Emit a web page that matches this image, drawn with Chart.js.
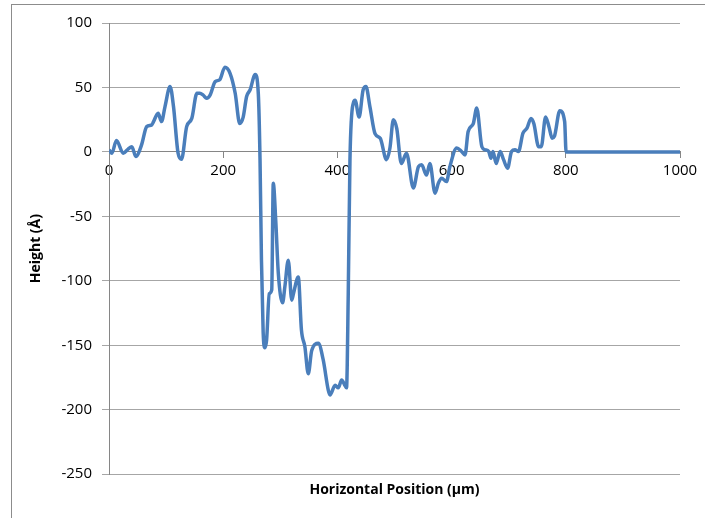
<!DOCTYPE html>
<html>
<head>
<meta charset="utf-8">
<script src="https://cdn.jsdelivr.net/npm/chart.js@4"></script>
<style>
  html, body { margin: 0; padding: 0; background: #fff; overflow: hidden; }
  #frame { position: absolute; left: 11px; top: 4px; width: 720px; height: 540px; border: 1px solid #8c8c8c; }
  #wrap { position: absolute; left: 0; top: 0; width: 705px; height: 518px; }
</style>
</head>
<body>
<div id="frame"></div>
<div id="wrap"><canvas id="profile"></canvas></div>
<script>
// surface profile: horizontal position (µm) vs height (Å)
const positions = [
  0, 5, 13, 25, 33, 40, 47, 57, 66, 75, 78, 86, 92, 98, 107, 113, 121, 127, 136, 145,
  154, 159, 165, 171, 177, 186, 194, 203, 212, 221, 229, 235, 241, 247, 256, 261.5, 264.5, 267, 270, 273,
  276, 280.7, 285, 287.7, 292, 296.5, 304, 308, 314, 320, 323, 331.5, 337, 343, 349, 355, 366.5, 375, 384, 387,
  396, 401.5, 407.4, 413, 416, 419, 422, 428, 431, 438, 445, 450, 457, 466, 475, 486, 492, 498, 504, 512,
  521, 533, 542, 547.5, 556, 562, 571, 577, 582.5, 591, 597, 609, 617.5, 623.5, 629, 638, 644, 653, 659, 665,
  669, 672.5, 678, 685, 691, 698, 705, 711, 717, 725, 732, 739, 744, 752.5, 757, 764.6, 770.5, 776, 780, 789.5,
  798, 800.5, 1000
];
const heights = [
  1.5, -1, 8.8, -1, 2, 4, -3.6, 5.4, 19.6, 21, 23.5, 30, 23.5, 35, 50.7, 35, -1, -5.7, 19.6, 26,
  45.5, 45.5, 44, 41.6, 44, 54.5, 56, 65.7, 61, 45.5, 22, 27, 43, 48, 60, 45, -6, -84, -140, -152,
  -146, -110, -107, -24.3, -53, -94, -117, -104.5, -84, -115, -110, -97, -138, -151, -172, -154, -148.5, -161, -184.7, -188.5,
  -181, -183, -177, -181, -183, -110, -6, 38, 40, 27, 48, 50.7, 35, 14, 10.6, -6, 3, 25, 18, -9,
  -1, -28, -11.4, -10, -18, -9, -32, -24, -20.4, -23, -11.4, 3, 0.3, -2.3, 15.8, 22, 34, 4, 1.6, 0.3,
  -5, 0.3, -9, 0.3, -6, -12.6, 0.3, 1.6, 0.3, 14.5, 18.4, 26, 22, 4, 4, 27, 19.6, 10.6, 12, 32,
  23.5, 0, 0
];
const xTicks = [0, 200, 400, 600, 800, 1000];
const yTicks = [-250, -200, -150, -100, -50, 0, 50, 100];

const tickFont = { family: "'Open Sans', sans-serif", size: 15 };
const titleFont = { family: "'Open Sans', sans-serif", size: 14, weight: 'bold' };

new Chart(document.getElementById('profile'), {
    type: 'line',
    data: {
        datasets: [{
            data: positions.map((p, i) => ({ x: p, y: heights[i] })),
            borderColor: '#4a7ebb',
            borderWidth: 3.5,
            pointRadius: 0,
            cubicInterpolationMode: 'monotone',
            fill: false
        }]
    },
    options: {
        responsive: true,
        maintainAspectRatio: false,
        animation: false,
        layout: { padding: { left: 12, right: 25, top: 23, bottom: 20 } },
        plugins: { legend: { display: false }, tooltip: { enabled: false } },
        scales: {
            // bottom axis only carries the title
            x: {
                type: 'linear', min: 0, max: 1000,
                ticks: { display: false },
                grid: { display: false, drawTicks: false },
                border: { display: false },
                title: { display: true, text: 'Horizontal Position (µm)', font: titleFont, color: '#000', padding: { top: 7, bottom: 0 } }
            },
            // tick labels sit on the zero line
            x2: {
                type: 'linear', min: 0, max: 1000,
                position: { y: 0 },
                afterBuildTicks: (axis) => { axis.ticks = xTicks.map(v => ({ value: v })); },
                ticks: { font: tickFont, color: '#000', padding: 4, maxRotation: 0, callback: (v) => String(v) },
                grid: { drawOnChartArea: false, tickLength: 6, color: '#868686' },
                border: { color: '#868686', width: 1 }
            },
            y: {
                min: -250, max: 100,
                afterBuildTicks: (axis) => { axis.ticks = yTicks.map(v => ({ value: v })); },
                afterFit: (axis) => { axis.width = 97; },
                ticks: { font: tickFont, color: '#000', padding: 10, callback: (v) => String(v) },
                grid: { color: '#a6a6a6', tickLength: 7 },
                border: { color: '#868686' },
                title: { display: true, text: 'Height (Å)', font: titleFont, color: '#000', padding: { top: 16, bottom: 0 } }
            }
        }
    }
});
</script>
</body>
</html>
